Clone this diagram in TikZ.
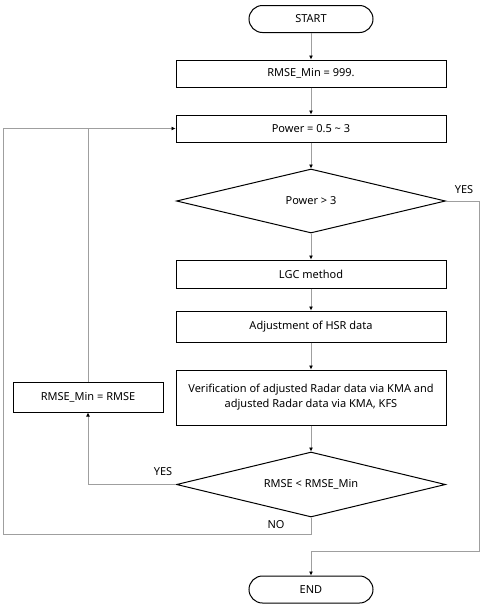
\documentclass[tikz,border=0pt]{standalone}
\usepackage{fontspec}
\setmainfont{Noto Sans}
\usetikzlibrary{shapes.geometric,arrows.meta}
\begin{document}
\begin{tikzpicture}[x=1pt,y=-1pt,
  txt/.style={font=\fontsize{11}{15}\selectfont},
  proc/.style={txt,draw=black,line width=1pt,minimum width=270pt,minimum height=27pt,inner sep=0pt,align=center},
  term/.style={txt,draw=black,line width=1pt,rounded corners=13.5pt,minimum width=124pt,minimum height=27pt,inner sep=0pt},
  decision/.style={txt,diamond,aspect=4.2,draw=black,line width=1pt,minimum width=269pt,minimum height=64pt,inner sep=0pt},
  line/.style={draw=gray!75,line width=0.7pt},
  conn/.style={line,-{Latex[length=4pt,width=4pt,color=black]}},
  lbl/.style={txt,inner sep=1pt}]
\useasboundingbox (0,0) rectangle (483,606);
\node[term] (start) at (311,19) {START};
\node[proc] (n1) at (311,73.5) {RMSE\_Min = 999.};
\node[proc] (n2) at (311,128.5) {Power = 0.5 \textasciitilde{} 3};
\node[decision] (d1) at (311,201) {Power > 3};
\node[proc,minimum height=28pt] (n3) at (311,274) {LGC method};
\node[proc,minimum height=31pt] (n4) at (311,326.5) {Adjustment of HSR data};
\node[proc,minimum height=55pt] (n5) at (311,397.5) {Verification of adjusted Radar data via KMA and\\adjusted Radar data via KMA, KFS};
\node[decision,minimum height=65pt] (d2) at (311,484.5) {RMSE < RMSE\_Min};
\node[proc,minimum width=150pt,minimum height=30pt] (L) at (88,397) {RMSE\_Min = RMSE};
\node[term] (end) at (311,589.5) {END};
\coordinate (r1) at (479,201);
\coordinate (r2) at (479,551);
\coordinate (r3) at (311,551);
\coordinate (b1) at (311,534);
\coordinate (b2) at (3,534);
\coordinate (b3) at (3,128.5);
\draw[conn] (start) -- (n1);
\draw[conn] (n1) -- (n2);
\draw[conn] (n2) -- (d1);
\draw[conn] (d1) -- (n3);
\draw[conn] (n3) -- (n4);
\draw[conn] (n4) -- (n5);
\draw[conn] (n5) -- (d2);
\draw[conn] (d1.east) -- (r1) -- (r2) -- (r3) -- (end.north);
\draw[conn] (d2.west) -| (L.south);
\draw[conn] (d2.south) -- (b1) -- (b2) -- (b3) -- (n2.west);
\draw[line] (L.north) -- (L.north |- n2.west);
\node[lbl] (y1) at (464,190) {YES};
\node[lbl] (y2) at (163,472) {YES};
\node[lbl] (no) at (276,525) {NO};
\end{tikzpicture}
\end{document}
